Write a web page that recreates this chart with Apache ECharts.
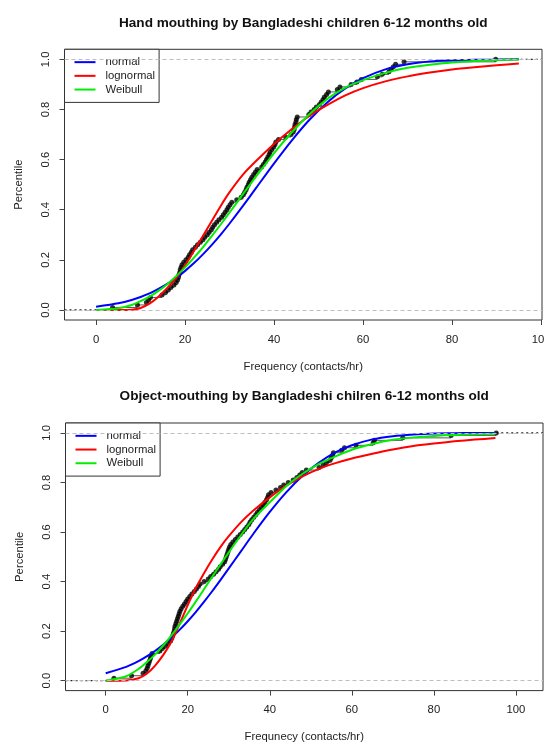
<!DOCTYPE html>
<html>
<head>
<meta charset="utf-8">
<title>Mouthing frequency ECDF</title>
<script src="https://cdn.jsdelivr.net/npm/echarts@6.0.0/dist/echarts.min.js"></script>
<style>
  html, body { margin: 0; padding: 0; background: #fff; }
  #chart { width: 544px; height: 744px; }
</style>
</head>
<body>
<div id="chart"></div>
<script>
  // tick positions
  const xTicks = [0, 20, 40, 60, 80, 100];
  const yTicks = [0, 0.2, 0.4, 0.6, 0.8, 1.0];

  // empirical percentile levels (same sample size in both panels)
  const ecdfLevels = [
    0.01, 0.02, 0.03, 0.04, 0.05, 0.06, 0.07, 0.08, 0.09, 0.10,
    0.11, 0.12, 0.13, 0.14, 0.15, 0.16, 0.17, 0.18, 0.19, 0.20,
    0.21, 0.22, 0.23, 0.24, 0.25, 0.26, 0.27, 0.28, 0.29, 0.30,
    0.31, 0.32, 0.33, 0.34, 0.35, 0.36, 0.37, 0.38, 0.39, 0.40,
    0.41, 0.42, 0.43, 0.44, 0.45, 0.46, 0.47, 0.48, 0.49, 0.50,
    0.51, 0.52, 0.53, 0.54, 0.55, 0.56, 0.57, 0.58, 0.59, 0.60,
    0.61, 0.62, 0.63, 0.64, 0.65, 0.66, 0.67, 0.68, 0.69, 0.70,
    0.71, 0.72, 0.73, 0.74, 0.75, 0.76, 0.77, 0.78, 0.79, 0.80,
    0.81, 0.82, 0.83, 0.84, 0.85, 0.86, 0.87, 0.88, 0.89, 0.90,
    0.91, 0.92, 0.93, 0.94, 0.95, 0.96, 0.97, 0.98, 0.99, 1.00
  ];

  // x positions where the fitted curves were read
  const curveX = [0, 5, 8, 10, 12, 14, 16, 18, 20, 22, 24, 26, 28, 30, 33, 36, 40, 44, 48, 52, 56, 60, 65, 70, 75, 80, 85, 90, 95];

  // hand mouthing (contacts/hr), sorted observations
  const handObs = [
    3.7, 9.3, 11.3, 11.8, 12.2, 14.8, 15.6, 16.2, 16.8, 17.5,
    18.0, 18.3, 18.5, 18.6, 18.8, 18.9, 19.1, 19.3, 19.7, 20.2,
    20.7, 21.0, 21.4, 21.7, 22.3, 22.8, 23.4, 24.0, 24.4, 25.0,
    25.4, 25.9, 26.2, 26.6, 27.1, 27.6, 28.2, 28.6, 29.0, 29.4,
    29.7, 30.1, 30.5, 31.6, 32.6, 33.1, 33.4, 33.7, 33.9, 34.2,
    34.4, 34.7, 35.0, 35.4, 35.8, 36.2, 37.2, 37.6, 38.0, 38.3,
    38.6, 38.9, 39.1, 39.5, 39.9, 40.2, 40.4, 41.0, 42.6, 43.8,
    44.3, 44.5, 44.6, 44.7, 44.9, 45.0, 45.2, 47.8, 48.3, 49.0,
    49.5, 50.2, 50.6, 51.0, 51.3, 51.8, 52.2, 54.2, 54.8, 57.3,
    58.6, 59.6, 63.2, 64.3, 65.8, 66.3, 66.8, 67.3, 69.2, 89.8
  ];
  const handNormal = [0.013, 0.027, 0.040, 0.052, 0.066, 0.084, 0.104, 0.128, 0.156, 0.187, 0.222, 0.260, 0.301, 0.345, 0.415, 0.488, 0.585, 0.677, 0.760, 0.829, 0.884, 0.925, 0.960, 0.980, 0.991, 0.996, 0.998, 0.999, 1.000];
  const handLognormal = [0, 0, 0.001, 0.008, 0.025, 0.053, 0.088, 0.128, 0.178, 0.236, 0.295, 0.355, 0.415, 0.470, 0.540, 0.595, 0.662, 0.722, 0.775, 0.818, 0.856, 0.885, 0.912, 0.932, 0.947, 0.959, 0.968, 0.976, 0.983];
  const handWeibull = [0, 0.007, 0.020, 0.035, 0.053, 0.076, 0.103, 0.135, 0.170, 0.209, 0.250, 0.295, 0.341, 0.389, 0.462, 0.534, 0.626, 0.709, 0.782, 0.842, 0.887, 0.917, 0.946, 0.966, 0.978, 0.987, 0.993, 0.997, 0.999];

  // object mouthing (contacts/hr), sorted observations
  const objectObs = [
    2.0, 6.3, 9.1, 9.8, 10.1, 10.3, 10.5, 10.7, 10.9, 11.0,
    11.3, 13.2, 13.8, 14.6, 15.3, 15.8, 16.1, 16.3, 16.5, 16.7,
    16.8, 16.9, 17.1, 17.3, 17.5, 17.7, 17.9, 18.1, 18.4, 18.8,
    19.2, 19.6, 20.0, 20.5, 21.0, 21.6, 22.1, 22.6, 23.0, 24.0,
    25.0, 25.6, 26.3, 26.9, 27.5, 27.9, 28.5, 29.0, 29.2, 29.4,
    29.6, 29.8, 30.0, 30.2, 30.5, 31.0, 31.6, 32.2, 32.8, 33.4,
    33.9, 34.4, 34.9, 35.2, 35.6, 36.1, 36.6, 37.0, 37.5, 38.0,
    38.4, 38.8, 39.2, 39.5, 39.7, 40.3, 41.5, 42.6, 43.4, 44.5,
    45.7, 46.6, 47.3, 47.9, 48.9, 52.0, 53.0, 53.8, 54.7, 55.0,
    55.3, 55.5, 57.5, 58.2, 61.0, 65.2, 65.5, 72.4, 84.2, 95.2
  ];
  const objectNormal = [0.030, 0.056, 0.079, 0.098, 0.120, 0.145, 0.173, 0.205, 0.240, 0.278, 0.319, 0.362, 0.407, 0.453, 0.523, 0.593, 0.681, 0.760, 0.827, 0.880, 0.921, 0.950, 0.974, 0.987, 0.994, 0.998, 0.999, 1.000, 1.000];
  const objectLognormal = [0, 0.001, 0.010, 0.028, 0.060, 0.103, 0.157, 0.228, 0.305, 0.375, 0.435, 0.490, 0.540, 0.583, 0.640, 0.687, 0.740, 0.787, 0.825, 0.855, 0.878, 0.897, 0.916, 0.933, 0.947, 0.957, 0.966, 0.973, 0.979];
  const objectWeibull = [0, 0.018, 0.047, 0.074, 0.105, 0.142, 0.182, 0.226, 0.272, 0.320, 0.370, 0.420, 0.469, 0.518, 0.588, 0.653, 0.720, 0.785, 0.835, 0.875, 0.905, 0.932, 0.955, 0.972, 0.982, 0.988, 0.992, 0.995, 0.997];

  const FONT = '"Liberation Sans", Arial, sans-serif';
  const TXT = '#222';

  // panel geometry (px) and axis limits
  const panels = [
    { title: 'Hand mouthing by Bangladeshi children 6-12 months old', xName: 'Frequency (contacts/hr)',
      left: 64.5, top: 49.3, width: 477.5, height: 270.7, xMin: -7.1, xMax: 100.2,
      obs: handObs, normal: handNormal, lognormal: handLognormal, weibull: handWeibull },
    { title: 'Object-mouthing by Bangladeshi chilren 6-12 months old', xName: 'Frequnecy (contacts/hr)',
      left: 65.5, top: 423, width: 477.5, height: 267.6, xMin: -9.8, xMax: 106.6,
      obs: objectObs, normal: objectNormal, lognormal: objectLognormal, weibull: objectWeibull }
  ];

  const zip = (xs, ys) => xs.map((x, i) => [x, ys[i]]);

  // horizontal pieces of the step function (no verticals, like plot.ecdf)
  const stepSegments = (xs, ps) => {
    const out = [];
    for (let i = 0; i < xs.length - 1; i++) {
      out.push([xs[i], ps[i]], [xs[i + 1], ps[i]], '-');
    }
    return out;
  };

  const grid = [], xAxis = [], yAxis = [], series = [], legend = [], graphic = [];

  panels.forEach((p, k) => {
    grid.push({ left: p.left, top: p.top, width: p.width, height: p.height,
      outerBoundsMode: 'none', containLabel: false,
      show: true, borderColor: '#333', borderWidth: 1, backgroundColor: 'transparent' });

    xAxis.push({
      type: 'value', gridIndex: k, min: p.xMin, max: p.xMax,
      name: p.xName, nameLocation: 'middle', nameGap: 41,
      nameTextStyle: { fontFamily: FONT, fontSize: 11.3, color: TXT },
      axisLine: { show: false, onZero: false },
      axisTick: { show: true, inside: false, length: 5, customValues: xTicks, lineStyle: { color: '#444' } },
      axisLabel: { customValues: xTicks, margin: 14, fontFamily: FONT, fontSize: 11.3, color: TXT },
      splitLine: { show: false }
    });

    yAxis.push({
      type: 'value', gridIndex: k, min: -0.04, max: 1.04,
      name: 'Percentile', nameLocation: 'middle', nameGap: 40,
      nameTextStyle: { fontFamily: FONT, fontSize: 11.3, color: TXT },
      axisLine: { show: false, onZero: false },
      axisTick: { show: true, inside: false, length: 5, customValues: yTicks, lineStyle: { color: '#444' } },
      axisLabel: { customValues: yTicks, rotate: 90, margin: 13, fontFamily: FONT, fontSize: 11.3, color: TXT,
        formatter: (v) => v.toFixed(1) },
      splitLine: { show: false }
    });

    const n = p.obs.length;

    series.push({
      name: 'ecdf steps', type: 'line', xAxisIndex: k, yAxisIndex: k,
      data: stepSegments(p.obs, ecdfLevels), connectNulls: false,
      showSymbol: false, lineStyle: { color: '#555', width: 1 }, silent: true, z: 1,
      markLine: {
        silent: true, symbol: ['none', 'none'], label: { show: false },
        lineStyle: { color: '#bdbdbd', type: [4, 3], width: 1 },
        data: [{ yAxis: 0 }, { yAxis: 1 }]
      }
    });
    series.push({
      name: 'ecdf tails', type: 'line', xAxisIndex: k, yAxisIndex: k,
      data: [[p.xMin, 0], [p.obs[0], 0], '-', [p.obs[n - 1], 1], [p.xMax, 1]],
      connectNulls: false, showSymbol: false, silent: true, z: 1,
      lineStyle: { color: '#222', width: 1.2, type: [2, 3] }
    });
    series.push({
      name: 'ecdf points', type: 'scatter', xAxisIndex: k, yAxisIndex: k,
      data: zip(p.obs, ecdfLevels), symbol: 'circle', symbolSize: 5,
      itemStyle: { color: '#000' }, silent: true, z: 2
    });

    [['normal', p.normal, '#0000ff'], ['lognormal', p.lognormal, '#ff0000'], ['Weibull', p.weibull, '#00ee00']]
      .forEach(([name, ys, color]) => {
        series.push({
          name, type: 'line', xAxisIndex: k, yAxisIndex: k,
          data: zip(curveX, ys), smooth: 0.25,
          showSymbol: false, itemStyle: { color }, lineStyle: { color, width: 2 }, z: 3
        });
      });

    legend.push({
      data: ['normal', 'lognormal', 'Weibull'], orient: 'vertical',
      left: p.left, top: p.top, selectedMode: false,
      icon: 'rect', itemWidth: 21, itemHeight: 2, itemGap: 0,
      padding: [6, 4, 6, 10],
      backgroundColor: '#fff', borderColor: '#333', borderWidth: 1, borderRadius: 0,
      textStyle: { fontFamily: FONT, fontSize: 11.3, color: TXT, lineHeight: 13.7, padding: [0, 0, 0, 5] }
    });

    graphic.push({
      type: 'text', x: p.left + p.width / 2, y: k === 0 ? 23 : 396,
      style: { text: p.title, font: 'bold 13.6px ' + FONT, fill: '#111', align: 'center', verticalAlign: 'middle' }
    });
  });

  const chart = echarts.init(document.getElementById('chart'));
  chart.setOption({
    animation: false,
    backgroundColor: '#fff',
    textStyle: { fontFamily: FONT },
    grid, xAxis, yAxis, legend, series, graphic
  });
</script>
</body>
</html>
